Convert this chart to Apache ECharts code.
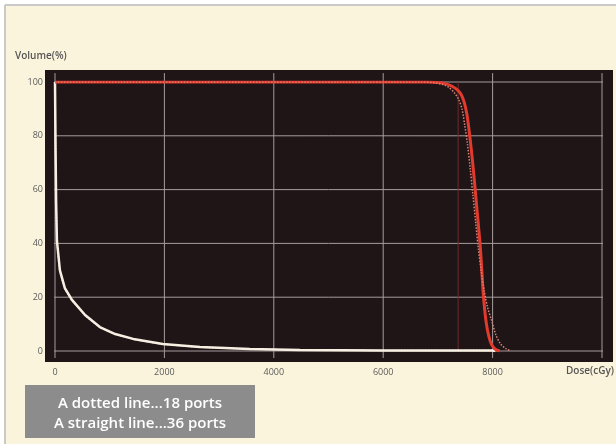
<!DOCTYPE html>
<html>
<head>
<meta charset="utf-8">
<style>
html,body{margin:0;padding:0;background:#ffffff;}
#chart{width:616px;height:444px;}
</style>
<script src="https://cdn.jsdelivr.net/npm/echarts@6/dist/echarts.min.js"></script>
</head>
<body>
<div id="chart"></div>
<script>
// ---- data ----
const xTicks = [0, 2000, 4000, 6000, 8000, 10000];
const yTicks = [0, 20, 40, 60, 80, 100];
const xAxisTitle = 'Dose(cGy)';
const yAxisTitle = 'Volume(%)';
const legendLines = ['A dotted line...18 ports', 'A straight line...36 ports'];

// target (PTV) DVH, 36 ports (straight line)
const ptv36 = [[0,100],[6800,100],[7000,99.8],[7150,99.3],[7250,98.5],[7350,97.2],[7420,95.5],[7480,92.5],[7530,88],[7570,82],[7610,75],[7650,67],[7690,58],[7730,49],[7770,40],[7800,31],[7830,21],[7880,11],[7930,5.5],[7980,2.5],[8030,1],[8080,0.3],[8130,0]];
// target (PTV) DVH, 18 ports (dotted line)
const ptv18 = [[0,100],[6700,100],[6950,99.7],[7100,99],[7200,98],[7300,96],[7380,93.5],[7440,90],[7490,84],[7540,77],[7590,68],[7640,58],[7690,48],[7740,38],[7790,30],[7850,22],[7910,16],[7980,11.5],[8060,6],[8150,2.5],[8250,0.8],[8330,0]];
// normal tissue DVH (white)
const tissue36 = [[0,100],[10,75],[20,56],[35,41],[90,30],[180,23.4],[310,19],[550,13.4],[820,8.9],[1100,6.3],[1430,4.5],[1970,2.6],[2650,1.5],[3560,0.7],[4480,0.35],[6000,0.2],[8000,0.15],[8050,0]];
const tissue18 = [[0,100],[10,74],[20,55],[35,40.5],[90,29.5],[180,23],[310,18.8],[550,13.2],[820,8.8],[1100,6.2],[1430,4.4],[1970,2.5],[2650,1.4],[3560,0.7],[4480,0.35],[6000,0.2],[8000,0.15],[8100,0]];
// faint vertical marker line
const markerLine = [[7370,100],[7370,0]];

// ---- chart ----
const chart = echarts.init(document.getElementById('chart'), null, {renderer:'canvas'});
const gridColor = '#a59c9c';
const fontFam = '"Open Sans", "Noto Sans", sans-serif';

// grid lines drawn as series through the axes, slightly overshooting the data range
const gridSeries = [];
xTicks.forEach(v => gridSeries.push({
  type: 'line', data: [[v, 103.3], [v, -2.6]], clip: false, showSymbol: false, silent: true, z: 2,
  lineStyle: {color: gridColor, width: 1}
}));
yTicks.forEach(v => gridSeries.push({
  type: 'line', data: [[-146, v], [10128, v]], clip: false, showSymbol: false, silent: true, z: 2,
  lineStyle: {color: gridColor, width: 1}
}));

const option = {
  backgroundColor: '#ffffff',
  animation: false,
  grid: {left: 55, right: 14, top: 82, bottom: 93, containLabel: false},
  xAxis: {
    type: 'value', min: 0, max: 10000, interval: 2000,
    axisLine: {show: false}, axisTick: {show: false}, splitLine: {show: false},
    axisLabel: {color: '#5a5a5a', fontSize: 9, fontFamily: fontFam, margin: 17,
      formatter: v => (v === 10000 ? '' : String(v))}
  },
  yAxis: {
    type: 'value', min: 0, max: 100, interval: 20,
    axisLine: {show: false}, axisTick: {show: false}, splitLine: {show: false},
    axisLabel: {color: '#5a5a5a', fontSize: 9, fontFamily: fontFam, margin: 12}
  },
  graphic: [
    {type: 'rect', z: 0, silent: true, shape: {x: 5, y: 5, width: 611, height: 439}, style: {fill: '#fbf4dc'}},
    {type: 'line', z: 0, silent: true, shape: {x1: 5, y1: 5, x2: 616, y2: 5}, style: {stroke: '#c9c9c9', lineWidth: 2}},
    {type: 'line', z: 0, silent: true, shape: {x1: 5, y1: 5, x2: 5, y2: 444}, style: {stroke: '#c9c9c9', lineWidth: 2}},
    {type: 'rect', z: 1, silent: true, shape: {x: 45, y: 70, width: 568, height: 292}, style: {fill: '#1f1517'}},
    {type: 'text', z: 3, left: 15, top: 51, style: {text: yAxisTitle, fill: '#555555', font: '600 10px ' + fontFam}},
    {type: 'text', z: 3, left: 566, top: 366, style: {text: xAxisTitle, fill: '#555555', font: '600 10px ' + fontFam}},
    {type: 'rect', z: 3, silent: true, shape: {x: 25, y: 385, width: 230, height: 53}, style: {fill: '#8c8c8c'}},
    {type: 'text', z: 4, x: 140, y: 404, style: {text: legendLines[0], fill: '#ffffff', font: '600 15px ' + fontFam, align: 'center', verticalAlign: 'middle'}},
    {type: 'text', z: 4, x: 140, y: 424, style: {text: legendLines[1], fill: '#ffffff', font: '600 15px ' + fontFam, align: 'center', verticalAlign: 'middle'}}
  ],
  series: gridSeries.concat([
    {name: 'marker', type: 'line', data: markerLine, showSymbol: false, z: 3, silent: true,
      lineStyle: {color: '#6b2b2b', width: 1}},
    {name: 'tissue 18 ports', type: 'line', data: tissue18, showSymbol: false, z: 4,
      lineStyle: {color: '#e8e0d0', width: 1.5, type: 'dotted'}},
    {name: 'tissue 36 ports', type: 'line', data: tissue36, showSymbol: false, z: 5,
      lineStyle: {color: '#f6efe2', width: 2.5}},
    {name: 'PTV 36 ports', type: 'line', data: ptv36, showSymbol: false, z: 5, smooth: 0.3,
      lineStyle: {color: '#e23a2c', width: 3}},
    {name: 'PTV 18 ports', type: 'line', data: ptv18, showSymbol: false, z: 6, smooth: 0.3,
      lineStyle: {color: '#d98377', width: 1.5, type: 'dotted'}}
  ])
};
chart.setOption(option);
</script>
</body>
</html>
